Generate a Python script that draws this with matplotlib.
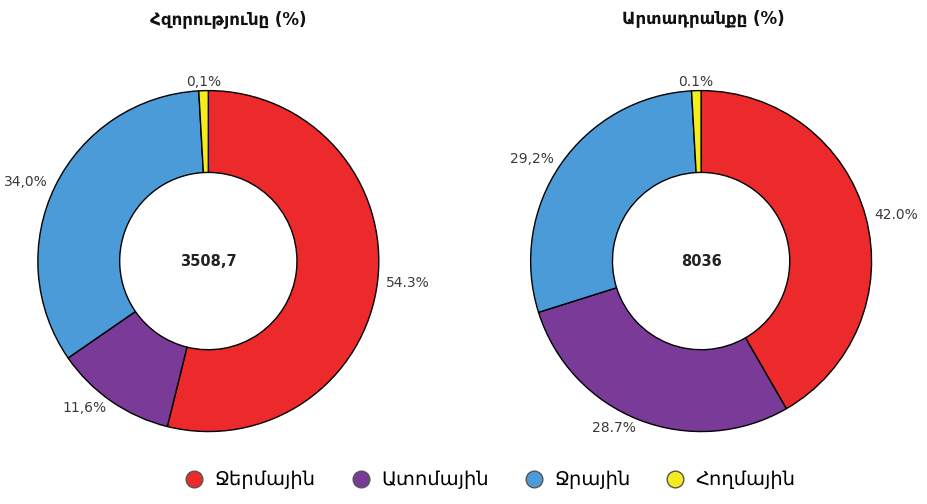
import matplotlib
matplotlib.use("Agg")
import matplotlib.pyplot as plt
from matplotlib.lines import Line2D
import numpy as np

plt.rcParams['font.family'] = ['DejaVu Sans']

categories = ["Ջերմային", "Ատոմային", "Ջրային", "Հողմային"]
colors = ["#ec2a2b", "#7a3a98", "#4b9bd8", "#f4ec1f"]

power_vals = [54.3, 11.6, 34.0, 0.1]
power_labels = ["54.3%", "11,6%", "34,0%", "0,1%"]
power_total = "3508,7"

output_vals = [42.0, 28.7, 29.2, 0.1]
output_labels = ["42.0%", "28.7%", "29,2%", "0.1%"]
output_total = "8036"

titles = ["Հզորությունը (%)", "Արտադրանքը (%)"]

fig = plt.figure(figsize=(9.28, 5.04), dpi=100)

def donut(ax, vals, labels, total):
    # keep the tiny wind slice visible, like the original
    sizes = np.maximum(np.array(vals), 0.9)
    wedges, texts = ax.pie(sizes, colors=colors, startangle=90, counterclock=False,
                           labels=labels, labeldistance=1.05,
                           wedgeprops=dict(width=0.48, edgecolor="black", linewidth=1.0),
                           textprops=dict(color="#3a3a3a", fontsize=10))
    texts[-1].set_horizontalalignment("center")
    ax.text(0, 0, total, ha="center", va="center", fontsize=10.5, fontweight="bold", color="#222222")
    ax.set_xlim(-1.02, 1.02)
    ax.set_ylim(-1.02, 1.02)
    ax.set_aspect("equal")

ax1 = fig.add_axes([0.037, 0.137, 0.375, 0.69])
donut(ax1, power_vals, power_labels, power_total)
ax2 = fig.add_axes([0.568, 0.137, 0.375, 0.69])
donut(ax2, output_vals, output_labels, output_total)

fig.text(0.246, 0.963, titles[0], ha="center", va="center", fontsize=12, fontweight="bold", color="#111111")
fig.text(0.758, 0.963, titles[1], ha="center", va="center", fontsize=12, fontweight="bold", color="#111111")

handles = [Line2D([0], [0], marker="o", linestyle="none", markersize=12,
                  markerfacecolor=c, markeredgecolor="#555555") for c in colors]
fig.legend(handles, categories, loc="center", bbox_to_anchor=(0.523, 0.048), ncol=4,
           frameon=False, fontsize=14, handletextpad=0.05, columnspacing=1.3)

fig.savefig("out.png", dpi=100)
